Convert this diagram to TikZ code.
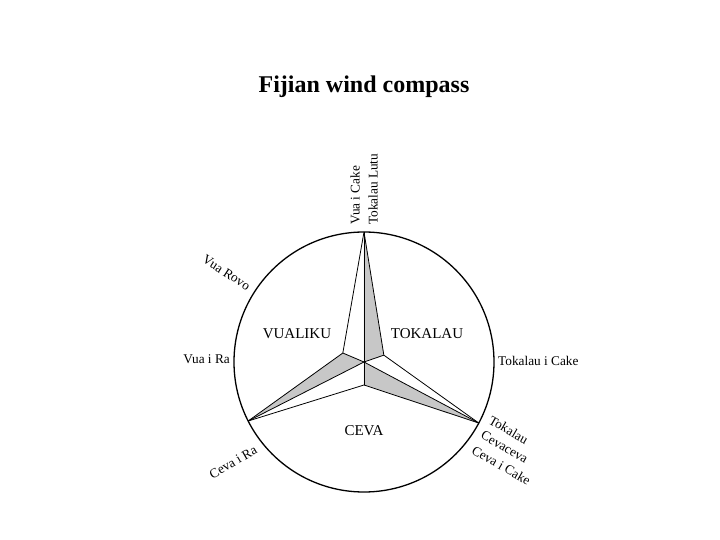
\documentclass[tikz,border=0pt]{standalone}
\usepackage{fontspec}
\setmainfont{Liberation Serif}
\usetikzlibrary{positioning,calc}

\begin{document}
\begin{tikzpicture}[
        x=1pt, y=1pt,
        rim/.style={draw, line width=1.3pt},
        edge/.style={draw, line width=0.8pt, line join=round},
        face/.style={fill=black!22},
        wind/.style={font=\fontsize{13.3}{15}\selectfont, inner sep=0pt},
        region/.style={font=\fontsize{15}{17}\selectfont, inner sep=1pt}
    ]
        \useasboundingbox (-364,-178) rectangle (356,362);

        % Title
        \node[font=\fontsize{24}{28}\selectfont\bfseries] (title) at (0,275) {Fijian wind compass};

        % Star points
        \coordinate (O) at (0,0);
        \coordinate (T) at (90:130);
        \coordinate (L) at (207:130);
        \coordinate (R) at (332:130);
        \coordinate (iL) at (157:23);
        \coordinate (iR) at (19:21);
        \coordinate (iB) at (270:23);

        % Circle
        \draw[rim] (O) circle (130);

        % Shaded faces
        \fill[face] (O) -- (T) -- (iR) -- cycle;
        \fill[face] (O) -- (R) -- (iB) -- cycle;
        \fill[face] (O) -- (L) -- (iL) -- cycle;

        % Edges
        \draw[edge] (T) -- (iR) -- (R) -- (iB) -- (L) -- (iL) -- cycle;
        \foreach \p in {T,L,R,iL,iR,iB}
            \draw[edge] (O) -- (\p);

        % Winds
        \node[wind, rotate=90, anchor=west] (vuacake) at (-9,137) {Vua i Cake};
        \node[wind, rotate=90, anchor=west] (lutu) at (9,137) {Tokalau Lutu};
        \node[wind, rotate=-33, anchor=east] (rovo) at (147:137) {Vua Rovo};
        \node[wind, anchor=east] (vuara) at (-134,3) {Vua i Ra};
        \node[wind, anchor=west] (tcake) at (134,1) {Tokalau i Cake};
        \node[wind, rotate=30, anchor=east] (cevara) at (-108,-87) {Ceva i Ra};
        \node[wind, rotate=-30, anchor=west] (tokalau) at (126,-57) {Tokalau};
        \node[wind, rotate=-30, anchor=west] (cevaceva) at (118,-72) {Cevaceva};
        \node[wind, rotate=-30, anchor=west] (cevacake) at (109,-87) {Ceva i Cake};

        % Regions
        \node[region] (vualiku) at (-67,28) {VUALIKU};
        \node[region] (tokalauR) at (63,28) {TOKALAU};
        \node[region] (ceva) at (0,-69) {CEVA};

    \end{tikzpicture}
\end{document}
